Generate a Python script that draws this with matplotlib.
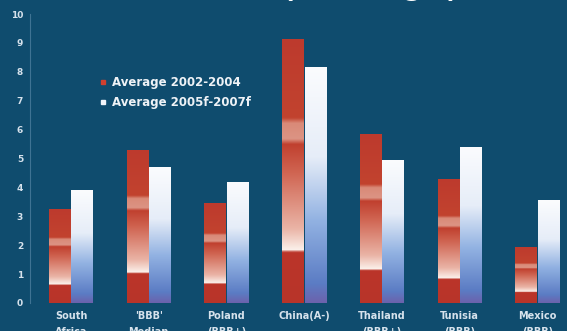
import numpy as np
import matplotlib.pyplot as plt
from matplotlib.colors import LinearSegmentedColormap
from matplotlib.lines import Line2D

categories = ['South\nAfrica', "'BBB'\nMedian", 'Poland\n(BBB+)', 'China(A-)',
              'Thailand\n(BBB+)', 'Tunisia\n(BBB)', 'Mexico\n(BBB)']
avg_2002_2004 = [3.25, 5.3, 3.45, 9.15, 5.85, 4.3, 1.95]
avg_2005_2007 = [3.9, 4.7, 4.2, 8.15, 4.95, 5.4, 3.55]
series_labels = ['Average 2002-2004', 'Average 2005f-2007f']
yticks = list(range(0, 11))

bg = '#0f4c6e'
txt = '#d6e2ec'
red = '#bd3a2d'

# bottom -> top colour ramps for the bars
red_cmap = LinearSegmentedColormap.from_list('redbar', [
    (0.0, '#b8342a'), (0.19, '#bb3529'), (0.2, '#fbf0ea'), (0.28, '#eab4a6'),
    (0.5, '#cf624f'), (0.6, '#c0402f'), (0.62, '#dc9484'), (0.68, '#d98a78'),
    (0.7, '#c2432f'), (1.0, red)])
white_cmap = LinearSegmentedColormap.from_list('whitebar', [
    (0.0, '#6c62ac'), (0.08, '#5b7cc4'), (0.35, '#92b2e2'), (0.62, '#e6edf8'),
    (1.0, '#fbfcfe')])
ramp = np.linspace(0, 1, 256).reshape(-1, 1)

fig = plt.figure(figsize=(5.67, 3.31), dpi=100, facecolor=bg)
ax = fig.add_axes([30 / 567, 28 / 331, 537 / 567, 289 / 331])
ax.set_facecolor(bg)

x = np.arange(len(categories))
w = 0.28
bars_a = ax.bar(x - 0.145, avg_2002_2004, w, color='none', linewidth=0)
bars_b = ax.bar(x + 0.145, avg_2005_2007, w, color='none', linewidth=0)

for bars, cmap in [(bars_a, red_cmap), (bars_b, white_cmap)]:
    for p in bars:
        x0, h = p.get_x(), p.get_height()
        im = ax.imshow(ramp, cmap=cmap, origin='lower', aspect='auto',
                       extent=[x0, x0 + p.get_width(), 0, h], zorder=2)
        im.set_clip_path(p)

ax.set_xlim(-0.527, 6.38)
ax.set_ylim(0, 10)
ax.set_yticks(yticks)
ax.set_xticks(x)
ax.set_xticklabels(categories, linespacing=1.75)
ax.tick_params(axis='y', length=0, pad=5, labelsize=6.5, labelcolor=txt)
ax.tick_params(axis='x', length=0, pad=6, labelsize=7, labelcolor=txt)
for lab in ax.get_xticklabels() + ax.get_yticklabels():
    lab.set_fontweight('bold')

for s in ['top', 'right', 'bottom']:
    ax.spines[s].set_visible(False)
ax.spines['left'].set_color('#3f7393')
ax.spines['left'].set_linewidth(0.8)

handles = [Line2D([], [], ls='none', marker='s', markersize=3, color='#d0402f'),
           Line2D([], [], ls='none', marker='s', markersize=3, color='#f2f4fa')]
leg = ax.legend(handles, series_labels, loc='upper left',
                bbox_to_anchor=(0.13, 0.785), frameon=False, fontsize=8.5,
                handlelength=0.6, handletextpad=0.4, labelspacing=0.6,
                borderpad=0, borderaxespad=0)
for t in leg.get_texts():
    t.set_color('#eef2f6')
    t.set_fontweight('bold')

# title line sits mostly above the figure edge
fig.text(370 / 567, 1 + 8 / 331, '(average)', ha='center', va='baseline',
         fontsize=31, color='white', family='Liberation Sans')

fig.savefig('out.png', dpi=100, facecolor=bg)
